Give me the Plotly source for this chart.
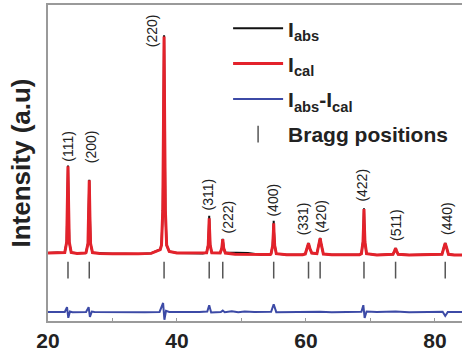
import plotly.graph_objects as go

# Rietveld refinement plot: observed, calculated, difference and Bragg markers

# Vertices of the observed / calculated profile (2-theta in degrees, counts in a.u.)
TWO_THETA = [
    20.0, 21.5, 22.4,
    22.6, 22.9, 23.0, 23.1, 23.2, 23.3, 23.6,
    24.5, 25.8,
    25.9, 26.2, 26.3, 26.4, 26.5, 26.6, 26.9,
    28.0, 30.0, 32.0, 34.0, 36.0, 36.6, 37.0, 37.4,
    37.6, 37.8, 37.9, 38.0, 38.1, 38.2, 38.4, 38.8,
    40.0, 42.0, 44.0,
    44.6, 44.85, 44.95, 45.0, 45.05, 45.15, 45.4,
    46.7, 46.95, 47.1, 47.25, 47.5,
    49.0, 51.0, 53.0, 54.5,
    54.6, 54.85, 54.95, 55.0, 55.05, 55.15, 55.4,
    57.0, 59.5,
    59.9, 60.2, 60.4, 60.6, 60.9,
    61.7, 62.0, 62.2, 62.4, 62.7,
    64.0, 66.0, 68.3,
    68.6, 68.85, 68.95, 69.0, 69.05, 69.15, 69.4,
    71.0, 73.2,
    73.5, 73.75, 73.9, 74.05, 74.3,
    76.0, 78.0, 80.9,
    81.1, 81.4, 81.6, 81.8, 82.1,
    83.0, 84.3,
]

I_CAL = [
    2150, 2160, 2150,
    2170, 2500, 3600, 4900, 3600, 2500, 2170,
    2140, 2150,
    2165, 2450, 3300, 4450, 3300, 2450, 2165,
    2135, 2125, 2120, 2125, 2140, 2200, 2230, 2260,
    2400, 3500, 6000, 9000, 6000, 3500, 2400, 2200,
    2150, 2145, 2140,
    2160, 2400, 2900, 3250, 2900, 2400, 2160,
    2150, 2300, 2590, 2300, 2150,
    2110, 2100, 2095, 2105,
    2130, 2400, 2800, 3090, 2800, 2400, 2130,
    2095, 2095,
    2120, 2300, 2460, 2300, 2150,
    2130, 2400, 2620, 2400, 2120,
    2095, 2090, 2100,
    2130, 2500, 3100, 3540, 3100, 2500, 2130,
    2090, 2090,
    2110, 2220, 2300, 2220, 2110,
    2085, 2090, 2090,
    2110, 2330, 2460, 2330, 2110,
    2085, 2085,
]

I_ABS = [
    2150, 2165, 2150,
    2175, 2510, 3620, 4920, 3610, 2490, 2170,
    2145, 2150,
    2170, 2460, 3310, 4470, 3290, 2440, 2160,
    2140, 2125, 2125, 2120, 2145, 2205, 2240, 2265,
    2420, 3520, 6030, 9040, 5980, 3480, 2390, 2200,
    2150, 2150, 2140,
    2165, 2420, 2950, 3330, 2930, 2410, 2160,
    2155, 2310, 2600, 2300, 2170,
    2160, 2155, 2100, 2110,
    2135, 2420, 2850, 3170, 2820, 2400, 2130,
    2100, 2095,
    2125, 2305, 2470, 2300, 2150,
    2130, 2410, 2630, 2400, 2125,
    2095, 2095, 2100,
    2135, 2520, 3130, 3570, 3110, 2490, 2130,
    2090, 2095,
    2110, 2225, 2310, 2220, 2110,
    2085, 2090, 2090,
    2110, 2330, 2465, 2320, 2110,
    2085, 2085,
]

# Difference curve (I_abs - I_cal, plotted with an offset)
DIFF_TWO_THETA = [
    20.0, 22.6, 22.95, 23.15, 23.4, 23.8,
    25.9, 26.3, 26.5, 26.8, 27.2,
    29.0, 32.0, 35.0, 37.3, 37.85, 38.05, 38.3, 38.8,
    41.0, 43.5, 44.7, 45.0, 45.3, 46.8, 47.1, 47.4,
    48.5, 49.5, 50.5, 52.0, 54.6, 55.0, 55.4,
    57.0, 59.0, 60.4, 62.2, 64.0, 66.0,
    68.6, 68.9, 69.1, 69.4, 71.0, 73.9, 76.0, 79.0,
    81.2, 81.6, 82.0, 84.3,
]
DIFF = [
    285, 285, 440, 100, 300, 280,
    285, 440, 130, 300, 285,
    280, 285, 280, 285, 570, 40, 320, 285,
    280, 285, 300, 500, 270, 285, 330, 280,
    310, 275, 300, 285, 290, 530, 280,
    285, 275, 300, 290, 280, 285,
    290, 500, 100, 300, 285, 300, 280, 285,
    290, 160, 285, 285,
]

# Reflections
HKL = ["(111)", "(200)", "(220)", "(311)", "(222)", "(400)",
       "(331)", "(420)", "(422)", "(511)", "(440)"]
BRAGG_POS = [23.1, 26.4, 38.0, 45.0, 47.1, 55.0, 60.4, 62.2, 69.0, 73.9, 81.6]
PEAK_TOP = [4900, 4450, 9000, 3250, 2590, 3090, 2460, 2620, 3540, 2300, 2460]
BRAGG_LEVEL = [1610] * len(BRAGG_POS)

X_TICKS = [20, 40, 60, 80]

# label pixel offsets from each peak top
LABEL_DX = [0, 2, -12, -1, 5, -1, -6, 1, -2, 1, 2]
LABEL_DY = [3, 15, -13, 6, 4, 5, 6, 3, 6, 5, 6]

RED = "#e3222b"
BLUE = "#3c4aa6"
BLACK = "#111111"
AXIS = "#9a9a9a"
TEXT = "#222222"
TICKMARK = "#555555"
FONT = "Liberation Sans, Arial, sans-serif"

fig = go.Figure()

fig.add_trace(go.Scatter(
    x=TWO_THETA, y=I_ABS, mode="lines", name="I<sub>abs</sub>",
    line=dict(color=BLACK, width=2), legendgroup="a",
))
fig.add_trace(go.Scatter(
    x=TWO_THETA, y=I_CAL, mode="lines", name="I<sub>cal</sub>",
    line=dict(color=RED, width=3), legendgroup="b",
))
fig.add_trace(go.Scatter(
    x=DIFF_TWO_THETA, y=DIFF, mode="lines", name="I<sub>abs</sub>-I<sub>cal</sub>",
    line=dict(color=BLUE, width=2), legendgroup="c",
))
fig.add_trace(go.Scatter(
    x=BRAGG_POS, y=BRAGG_LEVEL, mode="markers", name="Bragg positions",
    marker=dict(symbol="line-ns-open", size=12, color=TICKMARK,
                line=dict(color=TICKMARK, width=1.5)),
    legendgroup="d",
))

for lab, x, y, dx, dy in zip(HKL, BRAGG_POS, PEAK_TOP, LABEL_DX, LABEL_DY):
    fig.add_annotation(
        x=x, y=y, xref="x", yref="y", text=lab, textangle=-90, showarrow=False,
        xanchor="center", yanchor="bottom", xshift=dx, yshift=dy,
        font=dict(family=FONT, size=14, color=TEXT),
    )

fig.update_layout(
    width=462, height=354,
    margin=dict(l=48, r=0, t=5, b=33),
    paper_bgcolor="white", plot_bgcolor="white",
    showlegend=True,
    legend=dict(
        x=0.435, y=0.99, xanchor="left", yanchor="top",
        bgcolor="rgba(0,0,0,0)", borderwidth=0,
        font=dict(family=FONT, size=21, color=TEXT, weight="bold"),
        itemwidth=50, tracegroupgap=5, traceorder="grouped",
    ),
    xaxis=dict(
        range=[20, 84.2], tickvals=X_TICKS, ticks="inside", ticklen=3,
        tickcolor=AXIS, showline=True, linecolor=AXIS, linewidth=2,
        mirror=True, showgrid=False, zeroline=False,
        minor=dict(ticks="inside", ticklen=3, tickcolor=AXIS, dtick=10, showgrid=False),
        tickfont=dict(family=FONT, size=21, color=TEXT, weight="bold"),
    ),
    yaxis=dict(
        range=[0, 10000], showticklabels=False, ticks="", showline=True,
        linecolor=AXIS, linewidth=2, showgrid=False, zeroline=False,
        title=dict(text="Intensity (a.u)", standoff=8,
                   font=dict(family=FONT, size=26, color=TEXT, weight="bold")),
    ),
)

fig.write_html("out.html")
